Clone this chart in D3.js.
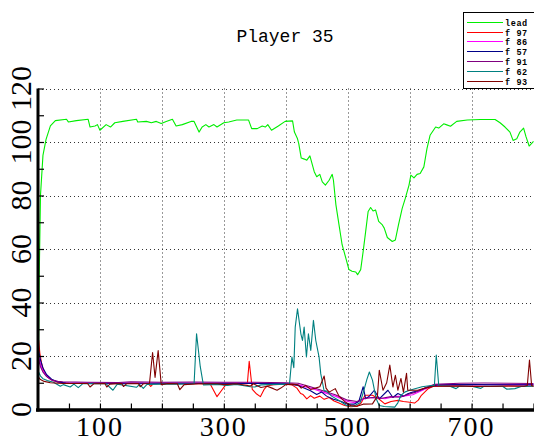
<!DOCTYPE html>
<html>
<head>
<meta charset="utf-8">
<script src="https://cdn.jsdelivr.net/npm/d3@7"></script>
<style>
   body { margin: 0; background: #fff; }
   svg { display: block; }
</style>
</head>
<body>
<svg id="chart" width="534" height="442"></svg>
<script>
// title
const Title = 'Player 35';

// legend
const SeriesNames = ['lead', 'f 97', 'f 86', 'f 57', 'f 91', 'f 62', 'f 93'];
const ColorMap = {
   'lead': '#00ee00',
   'f 97': '#ff0000',
   'f 86': '#ff00ff',
   'f 57': '#000088',
   'f 91': '#800080',
   'f 62': '#008080',
   'f 93': '#800000'
};

// ticks
const XTickLabels = [100, 300, 500, 700];
const YTickLabels = [0, 20, 40, 60, 80, 100, 120];

// data: [frame, value]
const lead = [[0,0],[2,50],[4,80],[8,95],[13,101],[20,106],[28,108],[46,108.5],[49,107.5],[62,108],[81,108.5],[84,105.6],[92,106],[96,106.5],[100,104.4],[110,106.5],[117,105.6],[124,107.2],[137,107.7],[159,108.5],[161,107.5],[175,107.7],[183,107.2],[191,107.7],[199,106.9],[207,107.7],[217,108.5],[223,106],[233,106.5],[247,107.7],[252,107.7],[260,103.7],[265,105.6],[271,106.5],[276,105.6],[284,106.5],[289,105.6],[300,107.2],[308,107.5],[321,108.2],[340,108.2],[345,105],[354,105],[362,106],[367,105.6],[371,106.5],[377,104.4],[388,106],[399,107.7],[411,107.9],[414,103.7],[419,101.2],[421,99.4],[425,94],[430,93.6],[434,93.2],[439,94.8],[446,88.9],[450,87],[455,87.9],[459,85.1],[464,83.9],[470,85.7],[475,87.9],[477,85.7],[481,76.5],[486,69],[491,61.6],[497,56.6],[502,52.3],[507,51.7],[513,51.4],[516,50.4],[521,52.3],[525,59.1],[529,66.5],[533,74],[537,75.5],[541,74.2],[545,74.6],[550,70.3],[556,69],[559,67.8],[564,64.3],[572,62.8],[577,63.4],[582,69],[588,75.2],[593,78.9],[599,83.9],[602,87.6],[607,86.6],[612,87.9],[617,88.2],[623,90.7],[628,97.5],[633,102.5],[642,105.6],[647,105.2],[655,106.8],[660,106.4],[666,105.9],[676,107.7],[693,108.2],[714,108.4],[738,108.4],[746,107.2],[754,105.6],[762,103.7],[767,100.6],[773,101.2],[778,103.7],[784,105.2],[788,101.9],[793,98.5],[800,100.2]];

const f97 = [[0,0],[1,26],[3,21],[6,17],[10,14],[16,12],[24,10.8],[35,10.1],[50,9.8],[100,9.7],[150,9.8],[178,9.7],[182,8.6],[186,9.6],[250,9.7],[278,9.5],[289,4.8],[296,7],[303,9.2],[320,9.6],[338,9.6],[341,18],[346,7.5],[352,6],[359,4.8],[365,7.5],[370,8.8],[380,9.3],[400,9.5],[410,9.2],[418,8],[424,6],[428,5.6],[434,4],[440,5.2],[446,4.2],[455,5],[462,3.8],[470,4.5],[478,3.2],[485,2.5],[495,1.5],[505,1],[515,1.2],[522,2.5],[528,5.3],[540,5.3],[550,4],[560,2.1],[570,3],[581,3.4],[590,3],[597,2.8],[608,2.4],[614,3.5],[619,5.3],[630,7.8],[638,8.7],[660,8.8],[700,8.8],[730,8.6],[760,8.8],[800,8.7]];

const f86 = [[0,0],[1,20],[4,17],[8,14.5],[14,12.5],[22,11],[32,10.3],[45,10],[100,9.9],[200,9.9],[300,9.9],[400,9.8],[420,9.2],[440,8],[460,6.5],[480,5],[500,3],[512,2.5],[522,3.5],[530,4.4],[545,4.5],[560,4],[575,4.8],[590,5],[605,5.5],[619,7],[635,8.7],[660,9.3],[800,9.3]];

const f57 = [[0,0],[1,22],[4,18.5],[8,15.5],[14,13],[22,11.3],[32,10.3],[45,9.9],[80,9.8],[150,9.8],[250,9.8],[350,9.7],[400,9.6],[420,9],[440,7],[450,5.6],[458,6.5],[466,5],[477,3.8],[490,3],[500,2],[510,2],[518,3],[525,8.5],[529,4],[535,5],[543,7.2],[551,4],[565,7.2],[573,4.5],[581,6],[590,5],[597,5.9],[605,6.5],[615,7],[630,8.5],[645,9.2],[700,9.3],[800,9.2]];

const f91 = [[0,0],[1,19],[4,16],[8,14],[14,12.3],[22,11],[32,10.5],[40,10.4],[80,10.2],[130,10.1],[150,10.4],[200,10.2],[250,10.3],[300,10.2],[350,10.2],[400,10],[420,9.8],[440,8.5],[460,7],[480,5.5],[500,3.5],[515,3],[525,4],[540,4.5],[555,4.2],[570,4.8],[585,4.6],[597,5.6],[610,6.5],[625,8],[640,9.4],[680,9.8],[720,9.9],[760,9.8],[800,9.7]];

const f62 = [[0,0],[1,14],[4,12.5],[8,11.5],[15,10.8],[25,10.2],[36,8.7],[41,9.3],[52,8.4],[58,9.5],[65,8.2],[72,9.6],[110,9.6],[121,7.2],[128,9.5],[159,8.3],[164,9.4],[170,7.9],[176,9.4],[200,9.5],[230,9.5],[252,9.6],[256,28.3],[262,16],[267,9.2],[290,9.4],[305,9],[320,9.4],[343,8.5],[350,8.4],[360,9.2],[400,9.5],[406,9.4],[410,19.6],[413,15.6],[415.3,30.8],[419,37.6],[424.4,28.3],[427,25.8],[429.7,30.8],[433.4,19.6],[436.6,28.3],[440.4,22.1],[444.7,33.3],[448.5,25.8],[453.8,19.6],[456.5,13.4],[461.8,7.1],[466,6.9],[474,5],[488,3.1],[498,1.5],[509,1.25],[520,2.5],[525,6.25],[531,11.25],[535,14],[540,11],[546,4],[551,1.5],[559,1.1],[576,0.9],[581,2.5],[586,5.3],[592,6.5],[600,7.2],[620,8.5],[635,9],[640,9],[643,20.4],[647,9],[665,8.7],[675,7.8],[680,8.7],[700,8.7],[715,7.9],[720,8.7],[750,8.7],[757,7.6],[770,7.8],[780,8.6],[800,8.7]];

const f93 = [[0,0],[1,12],[4,11.2],[10,10.5],[20,10],[40,9.7],[80,9.7],[84,8.4],[90,9.6],[108,9.7],[111,8.4],[116,9.5],[135,9.7],[138,8.6],[143,9.6],[162,9.7],[165,8.5],[170,9.6],[180,9.7],[185,21.3],[189,12],[194,22],[199,9.3],[210,9.7],[225,9.6],[229,7.4],[236,9.3],[260,9.6],[290,9.6],[300,9.3],[320,9.6],[343,8.8],[348,9.6],[360,8.2],[370,8.7],[380,7.8],[386,7.2],[392,8],[400,9.3],[410,9.5],[420,9.2],[425,8],[432,9],[440,7.5],[448,8],[455,8.5],[462,12.5],[465,8],[470,6.5],[480,7.8],[486,5],[495,3],[505,1.5],[515,1.25],[525,2],[540,2.1],[548,5],[551,14.7],[557,7.2],[563,10],[568,16.6],[573,8.4],[577,12.8],[581,7.2],[586,11.6],[590,6.5],[595,13.5],[597,7.2],[603,7.2],[613,7.2],[625,8],[640,8.7],[680,8.8],[700,8.6],[740,8.7],[760,8.8],[785,8.7],[790,9],[793.5,18.5],[797,9],[800,8.7]];

const SeriesData = [
   { name: 'lead', values: lead },
   { name: 'f 97', values: f97 },
   { name: 'f 86', values: f86 },
   { name: 'f 57', values: f57 },
   { name: 'f 91', values: f91 },
   { name: 'f 62', values: f62 },
   { name: 'f 93', values: f93 }
];

// plot area
const Left = 38, Right = 534, Top = 88.5, Bottom = 409.5;

const svg = d3.select('#chart');

const x = d3.scaleLinear().domain([0, 800]).range([Left, Right - 0.5]);
const y = d3.scaleLinear().domain([0, 120]).range([Bottom, Top]);

// grid
const grid = svg.append('g')
   .attr('stroke', '#333')
   .attr('stroke-width', 1)
   .attr('stroke-dasharray', '1,3');

grid.selectAll('line.gx')
   .data(d3.range(100, 801, 100))
   .enter()
   .append('line')
   .attr('class', 'gx')
   .attr('x1', (d) => Math.round(x(d)) + 0.5)
   .attr('x2', (d) => Math.round(x(d)) + 0.5)
   .attr('y1', Top)
   .attr('y2', Bottom);

grid.selectAll('line.gy')
   .data(d3.range(20, 121, 20))
   .enter()
   .append('line')
   .attr('class', 'gy')
   .attr('x1', Left)
   .attr('x2', Right)
   .attr('y1', (d) => Math.round(y(d)) + 0.5)
   .attr('y2', (d) => Math.round(y(d)) + 0.5);

// series
const line = d3.line()
   .x((d) => x(d[0]))
   .y((d) => y(d[1]));

svg.append('g')
   .selectAll('path')
   .data(SeriesData)
   .enter()
   .append('path')
   .attr('d', (d) => line(d.values))
   .attr('fill', 'none')
   .attr('stroke', (d) => ColorMap[d.name])
   .attr('stroke-width', 1.1)
   .attr('stroke-linejoin', 'round');

// axes
const xAxis = d3.axisTop(x)
   .tickValues(d3.range(50, 801, 50))
   .tickSize(6)
   .tickFormat('');
svg.append('g')
   .attr('transform', `translate(0,${Bottom})`)
   .call(xAxis)
   .call((g) => g.select('.domain').remove())
   .call((g) => g.selectAll('line').attr('stroke', '#000').attr('stroke-width', 1.2));

const yAxis = d3.axisRight(y)
   .tickValues(d3.range(10, 121, 10))
   .tickSize(6)
   .tickFormat('');
svg.append('g')
   .attr('transform', `translate(${Left},0)`)
   .call(yAxis)
   .call((g) => g.select('.domain').remove())
   .call((g) => g.selectAll('line').attr('stroke', '#000').attr('stroke-width', 1.2));

svg.append('line')
   .attr('x1', Left - 2).attr('x2', Right)
   .attr('y1', Bottom + 0.5).attr('y2', Bottom + 0.5)
   .attr('stroke', '#000').attr('stroke-width', 3.5);

svg.append('line')
   .attr('x1', Left).attr('x2', Left)
   .attr('y1', Top).attr('y2', Bottom + 2)
   .attr('stroke', '#000').attr('stroke-width', 3);

// tick labels
svg.append('g')
   .selectAll('text')
   .data(XTickLabels)
   .enter()
   .append('text')
   .attr('x', (d) => x(d))
   .attr('y', 435.5)
   .attr('text-anchor', 'middle')
   .attr('font-family', 'Liberation Serif')
   .attr('font-size', 28)
   .attr('letter-spacing', 2)
   .text((d) => d);

svg.append('g')
   .selectAll('text')
   .data(YTickLabels)
   .enter()
   .append('text')
   .attr('transform', (d) => `translate(31,${y(d)}) rotate(-90)`)
   .attr('text-anchor', 'middle')
   .attr('font-family', 'Liberation Serif')
   .attr('font-size', 30)
   .text((d) => d);

// title
svg.append('text')
   .attr('x', 285)
   .attr('y', 42)
   .attr('text-anchor', 'middle')
   .attr('font-family', 'Liberation Mono')
   .attr('font-size', 18)
   .text(Title);

// legend
const legend = svg.append('g');
legend.append('rect')
   .attr('x', 463.5).attr('y', 12.5)
   .attr('width', 80).attr('height', 76)
   .attr('fill', '#fff')
   .attr('stroke', '#000')
   .attr('stroke-width', 1);

const items = legend.selectAll('g.item')
   .data(SeriesNames)
   .enter()
   .append('g')
   .attr('class', 'item')
   .attr('transform', (d, i) => `translate(0,${Math.round(21.7 + i * 9.83)})`);

items.append('line')
   .attr('x1', 467).attr('x2', 503)
   .attr('y1', 0.5).attr('y2', 0.5)
   .attr('stroke', (d) => ColorMap[d])
   .attr('stroke-width', 1.2);

items.append('text')
   .attr('x', 505)
   .attr('y', 3.5)
   .attr('font-family', 'Liberation Mono')
   .attr('font-weight', 'bold')
   .attr('font-size', 8.5)
   .attr('letter-spacing', 0.6)
   .text((d) => d);
</script>
</body>
</html>
